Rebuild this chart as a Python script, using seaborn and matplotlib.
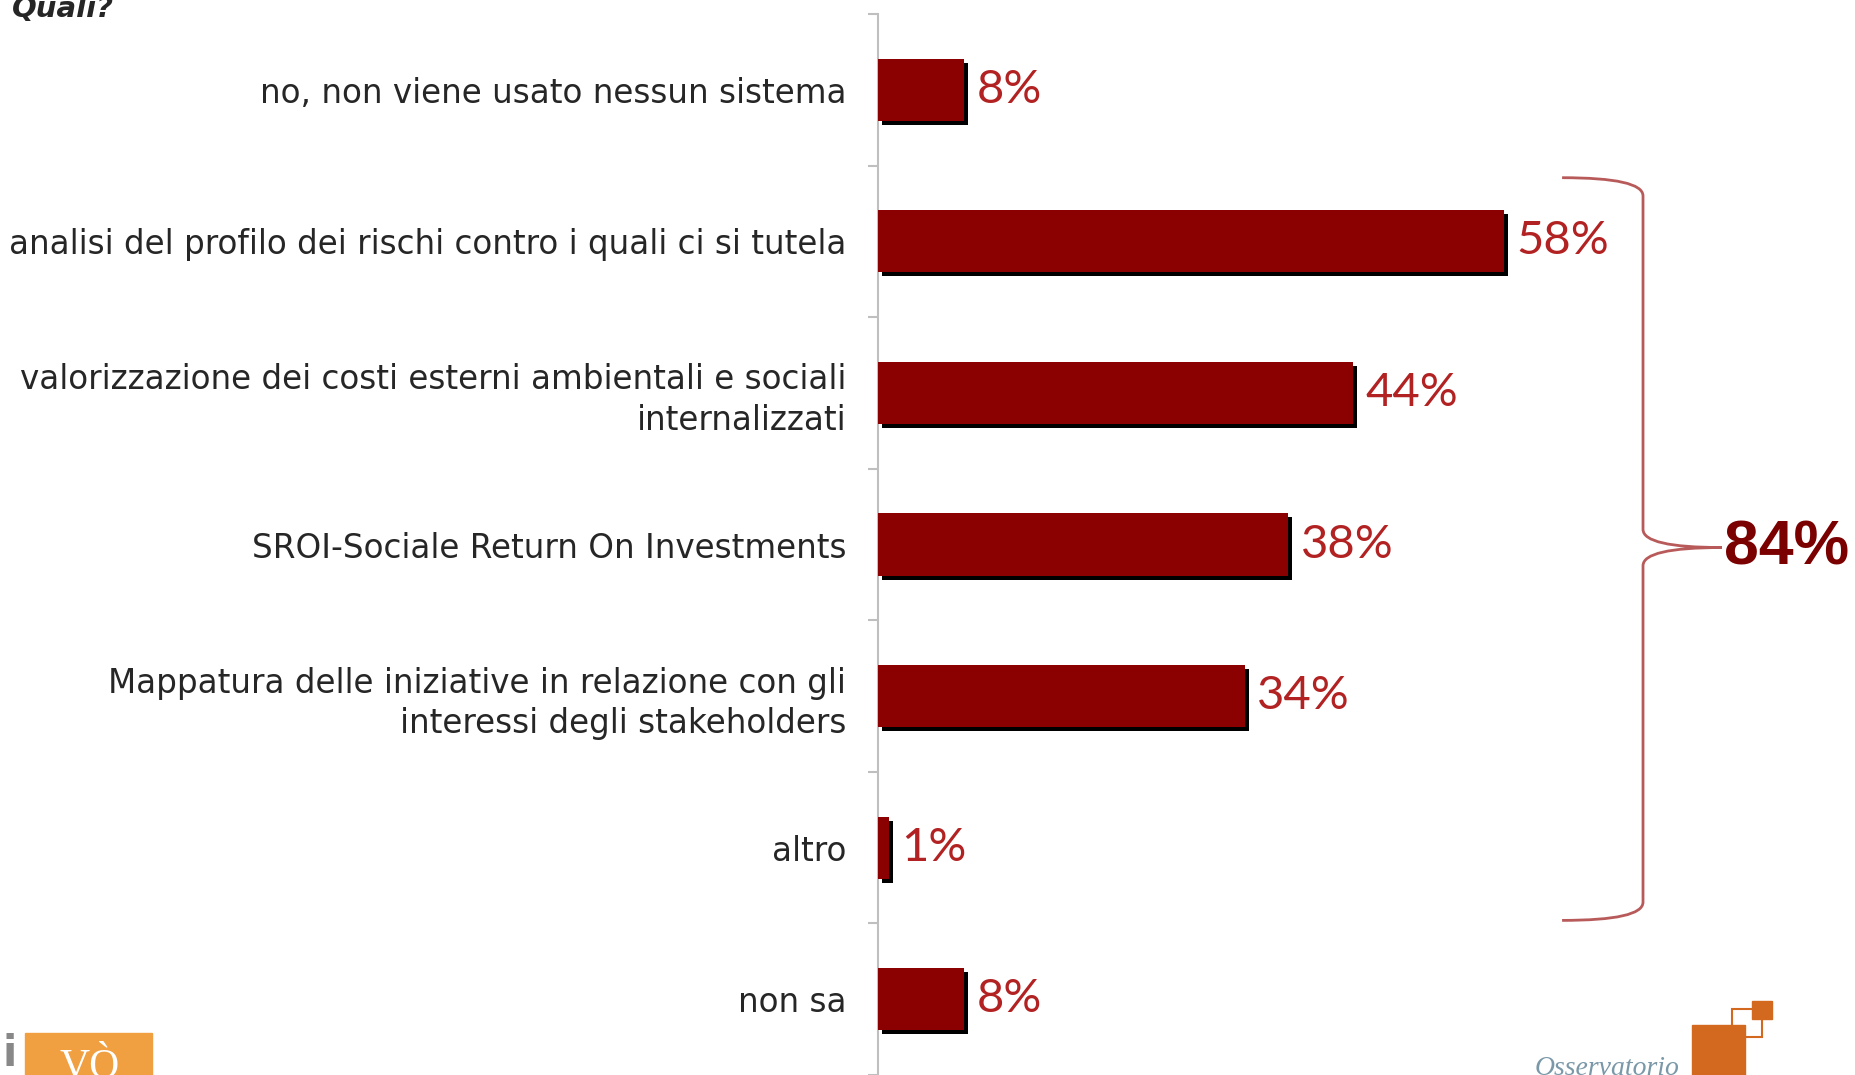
import matplotlib
matplotlib.use("Agg")
import matplotlib.pyplot as plt
import matplotlib.transforms as mtransforms
from matplotlib.path import Path
from matplotlib.patches import PathPatch, Rectangle
import numpy as np
import seaborn as sns

categories = [
    "no, non viene usato nessun sistema",
    "analisi del profilo dei rischi contro i quali ci si tutela",
    "valorizzazione dei costi esterni ambientali e sociali\ninternalizzati",
    "SROI-Sociale Return On Investments",
    "Mappatura delle iniziative in relazione con gli\ninteressi degli stakeholders",
    "altro",
    "non sa",
]
values = [8, 58, 44, 38, 34, 1, 8]
value_labels = ["8%", "58%", "44%", "38%", "34%", "1%", "8%"]
total_label = "84%"

sns.set_style("white")
plt.rcParams["font.family"] = ["DejaVu Sans"]

W, H = 1856, 1075
fig = plt.figure(figsize=(W / 100, H / 100), dpi=100)
ax = fig.add_axes([878 / W, 0, 1 - 878 / W, 1 - 14 / H])

# shadow bars, then the red bars on top
sns.barplot(x=values, y=categories, orient="h", color="black", width=0.41,
            saturation=1, linewidth=0, ax=ax)
sns.barplot(x=values, y=categories, orient="h", color="#8B0000", width=0.41,
            saturation=1, linewidth=0, ax=ax)
shift = mtransforms.ScaledTranslation(4 / 100, -4 / 100, fig.dpi_scale_trans)
for p in ax.containers[0]:
    p.set_transform(ax.transData + shift)
for p in ax.containers[1]:
    p.set_zorder(3)

ax.bar_label(ax.containers[1], labels=value_labels, padding=9,
             color="#B22222", fontsize=34, family="Lato")

ax.set_xlim(0, (W - 878) / 10.79)
ax.set_ylim(len(categories) - 0.5, -0.5)
ax.set_xlabel("")
ax.set_ylabel("")
ax.set_xticks([])
for s in ["top", "right", "bottom"]:
    ax.spines[s].set_visible(False)
ax.spines["left"].set_color("#BFBFBF")
ax.spines["left"].set_linewidth(1.5)
ax.tick_params(axis="y", which="major", length=0, pad=23, labelsize=23.5,
               labelcolor="#262626")
ax.set_yticks(np.arange(-0.5, len(categories) + 0.5, 1), minor=True)
ax.tick_params(axis="y", which="minor", left=True, length=7, color="#BFBFBF",
               width=1.5)
for t in ax.get_yticklabels():
    t.set_horizontalalignment("right")
    t.set_multialignment("right")
    t.set_linespacing(1.3)

# bracket grouping the answers that use some system
x0, x1, xt = 63.4, 70.9, 78.2
y0, ym, y1 = 0.58, 3.02, 5.48
verts = [(x0, y0), (x1, y0), (x1, y0 + 0.12),
         (x1, ym - 0.12),
         (x1, ym), (xt, ym),
         (x1, ym), (x1, ym + 0.12),
         (x1, y1 - 0.12),
         (x1, y1), (x0, y1)]
codes = [Path.MOVETO, Path.CURVE3, Path.CURVE3,
         Path.LINETO,
         Path.CURVE3, Path.CURVE3,
         Path.CURVE3, Path.CURVE3,
         Path.LINETO,
         Path.CURVE3, Path.CURVE3]
ax.add_patch(PathPatch(Path(verts, codes), fill=False, edgecolor="#B85A5A",
                       lw=2, clip_on=False))
ax.text(xt + 0.2, ym, total_label, color="#7B0000", fontsize=45,
        fontweight="bold", family="Liberation Sans", va="center", ha="left",
        clip_on=False)

fig.text(12 / W, 1 - 17 / H, "Quali?", fontsize=21, fontweight="bold",
         fontstyle="italic", va="baseline", ha="left")

# logos at the bottom corners
fig.patches.append(Rectangle((25 / W, 0), 127 / W, 42 / H, color="#F0A040",
                             transform=fig.transFigure, figure=fig))
fig.text(2 / W, 0, "i", fontsize=30, fontweight="bold", color="#888888",
         va="bottom")
fig.text(60 / W, -12 / H, "VÒ", fontsize=30, color="white", family="Liberation Serif",
         va="bottom")
fig.patches.append(Rectangle((1692 / W, 0), 53 / W, 50 / H, color="#D2691E",
                             transform=fig.transFigure, figure=fig))
fig.patches.append(Rectangle((1752 / W, 56 / H), 20 / W, 18 / H, color="#D2691E",
                             transform=fig.transFigure, figure=fig))
fig.patches.append(Rectangle((1732 / W, 38 / H), 30 / W, 28 / H, fill=False,
                             edgecolor="#D2691E", lw=1.5,
                             transform=fig.transFigure, figure=fig))
fig.text(1535 / W, -6 / H, "Osservatorio", fontsize=20, fontstyle="italic",
         family="Liberation Serif", color="#7A98A8", va="bottom")

fig.savefig("out.png", dpi=100)
